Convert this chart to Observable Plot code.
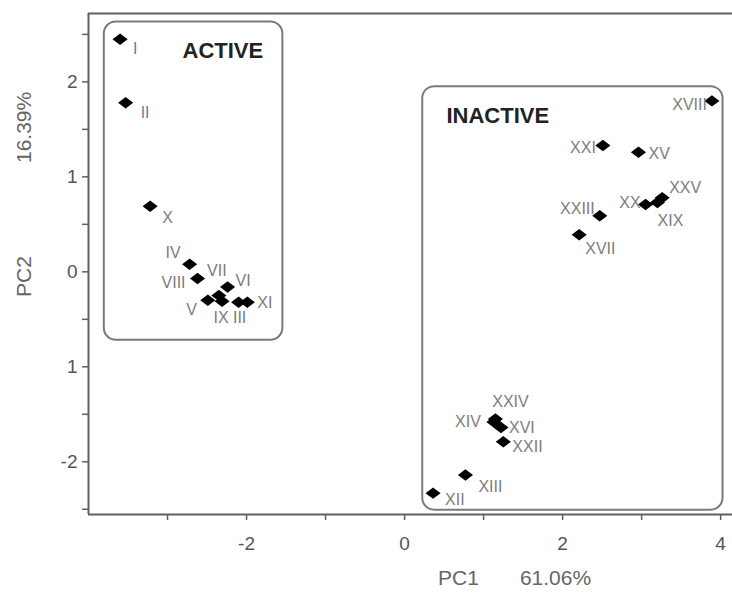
<!DOCTYPE html>
<html>
<head>
<meta charset="utf-8">
<script src="https://cdn.jsdelivr.net/npm/d3@7"></script>
<script src="https://cdn.jsdelivr.net/npm/@observablehq/plot@0.6"></script>
<style>
  html, body { margin: 0; padding: 0; background: #fff; }
  #chart svg { display: block; font-family: "Liberation Sans", Arial, sans-serif; }
</style>
</head>
<body>
<div id="chart"></div>
<script>
// ---- data ----
const compounds = ["I","II","III","IV","V","VI","VII","VIII","IX","X","XI","XII","XIII","XIV","XV","XVI","XVII","XVIII","XIX","XX","XXI","XXII","XXIII","XXIV","XXV"];
const pc1 = [-3.60,-3.53,-2.10,-2.72,-2.49,-2.24,-2.35,-2.62,-2.31,-3.22,-1.99,0.36,0.77,1.13,2.96,1.22,2.21,3.89,3.20,3.05,2.51,1.25,2.47,1.15,3.26];
const pc2 = [2.45,1.78,-0.32,0.08,-0.30,-0.16,-0.25,-0.07,-0.31,0.69,-0.32,-2.33,-2.14,-1.58,1.26,-1.64,0.39,1.80,0.73,0.71,1.33,-1.79,0.59,-1.55,0.78];

const groupNames = ["ACTIVE", "INACTIVE"];
const groupX1 = [-3.80, 0.23];
const groupX2 = [-1.54, 4.03];
const groupY1 = [2.63, 1.95];
const groupY2 = [-0.72, -2.51];
const groupLabelX = [-2.30, 1.18];
const groupLabelY = [2.33, 1.64];

const xTicks = [-3,-2,-1,0,1,2,3,4];
const xTickLabels = {"-2":"-2","0":"0","2":"2","4":"4"};
const yTicks = [-2.5,-2,-1.5,-1,-0.5,0,0.5,1,1.5,2,2.5];
const yTickValues = [-2,-1,0,1,2];
const yTickLabels = ["-2","1","0","1","2"];

const xTitle = ["PC1", "61.06%"];
const yTitle = ["PC2", "16.39%"];

// ---- label placement (layout only) : [textAnchor, dx, dy] ----
const labelPlacement = {
  I:["start",13,10], II:["start",15,10], III:["middle",1,16], IV:["end",-9,-11],
  V:["end",-11,10], VI:["start",8,-6], VII:["middle",-2,-25], VIII:["end",-12,4],
  IX:["middle",-1,17], X:["start",12,12], XI:["start",10,1], XII:["start",12,7],
  XIII:["start",13,12], XIV:["end",-13,0], XV:["start",10,2], XVI:["start",8,0],
  XVII:["start",6,14], XVIII:["end",-5,4], XIX:["middle",13,18], XX:["end",-5,-2],
  XXI:["end",-7,2], XXII:["start",9,5], XXIII:["end",-5,-7], XXIV:["middle",15,-17],
  XXV:["start",7,-10]
};

const points = compounds.map((c, i) => ({name: c, pc1: pc1[i], pc2: pc2[i]}));
const groups = groupNames.map((g, i) => ({name: g, x1: groupX1[i], x2: groupX2[i], y1: groupY1[i], y2: groupY2[i], lx: groupLabelX[i], ly: groupLabelY[i]}));

const xDomain = [-4.0, 4.15];
const yDomain = [-2.555, 2.72];

// wide diamond symbol
const wideDiamond = {
  draw(context, size) {
    const r = Math.sqrt(size / Math.PI);
    const w = r * 1.08, h = r * 0.82;
    context.moveTo(0, -h);
    context.lineTo(w, 0);
    context.lineTo(0, h);
    context.lineTo(-w, 0);
    context.closePath();
  }
};

const labelMarks = points.map(p => {
  const [anchor, dx, dy] = labelPlacement[p.name];
  return Plot.text([p], {x: "pc1", y: "pc2", text: "name", textAnchor: anchor, dx, dy,
    lineAnchor: "middle", fill: "#7d7d7d", fontSize: 16, letterSpacing: "1.3px"});
});

const axisColor = "#606060";

const chart = Plot.plot({
  width: 732,
  height: 596,
  marginLeft: 88,
  marginTop: 13,
  marginRight: 0,
  marginBottom: 82,
  style: {fontFamily: "Liberation Sans, Arial, sans-serif", background: "#fff"},
  x: {domain: xDomain},
  y: {domain: yDomain},
  marks: [
    Plot.rect(groups, {x1: "x1", x2: "x2", y1: "y1", y2: "y2", rx: 12, fill: "none", stroke: "#7a7a7a", strokeWidth: 2}),
    Plot.text(groups, {x: "lx", y: "ly", text: "name", fontWeight: "bold", fontSize: 22, letterSpacing: "1.4px", fill: "#222", lineAnchor: "middle"}),
    Plot.ruleX([xDomain[0]], {stroke: axisColor, strokeWidth: 2}),
    Plot.ruleY([yDomain[0]], {stroke: axisColor, strokeWidth: 2}),
    Plot.ruleY([yDomain[1]], {stroke: axisColor, strokeWidth: 2}),
    Plot.axisX(xTicks, {tickSize: 6, tickPadding: 16, stroke: axisColor, strokeWidth: 1.5, fill: "#555", fontSize: 19,
      tickFormat: d => xTickLabels[String(d)] ?? "", label: null}),
    Plot.axisY(yTicks, {tickSize: 6, tickPadding: 5, stroke: axisColor, strokeWidth: 1.5, fill: "#555", fontSize: 19,
      tickFormat: d => { const k = yTickValues.indexOf(d); return k >= 0 ? yTickLabels[k] : ""; }, label: null}),
    Plot.dot(points, {x: "pc1", y: "pc2", r: 7, symbol: wideDiamond, fill: "#000", stroke: "none"}),
    ...labelMarks,
    Plot.text([xTitle[0]], {frameAnchor: "bottom", dx: 48, dy: 64, fill: "#666", fontSize: 21, lineAnchor: "middle"}),
    Plot.text([xTitle[1]], {frameAnchor: "bottom", dx: 145, dy: 64, fill: "#666", fontSize: 21, lineAnchor: "middle"}),
    Plot.text([yTitle[0]], {frameAnchor: "left", dx: -64, dy: 33, rotate: -90, fill: "#666", fontSize: 21, lineAnchor: "middle"}),
    Plot.text([yTitle[1]], {frameAnchor: "left", dx: -64, dy: -101, rotate: -90, fill: "#666", fontSize: 21, lineAnchor: "middle"})
  ]
});

document.getElementById("chart").append(chart);
</script>
</body>
</html>
